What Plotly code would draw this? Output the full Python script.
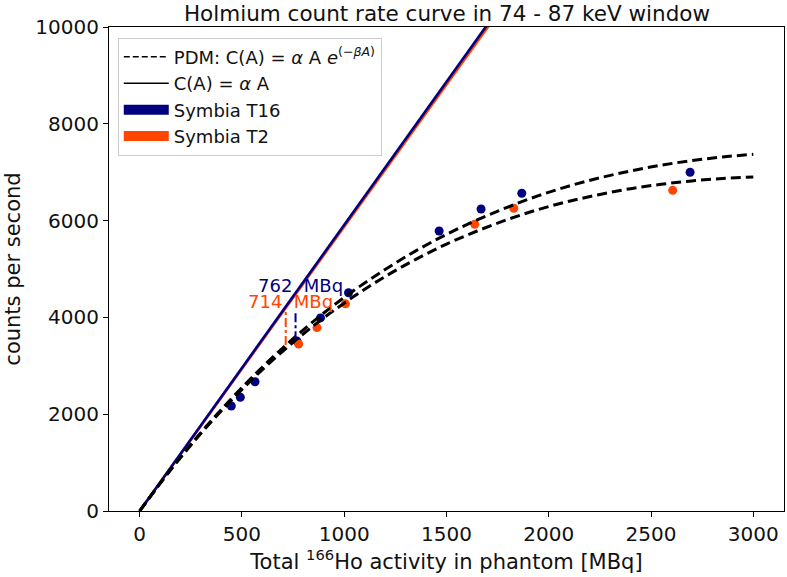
import plotly.graph_objects as go

# ---------------- data ----------------
# measured points (Symbia T16 = navy, Symbia T2 = orangered)
t16_activity = [448, 492, 564, 769, 884, 1021, 1464, 1669, 1868, 2691]
t16_counts = [2170, 2350, 2670, 3510, 3990, 4510, 5785, 6240, 6565, 7000]
t2_activity = [777, 867, 1006, 1638, 1829, 2606]
t2_counts = [3450, 3790, 4280, 5925, 6255, 6625]

# PDM fit curves
curve_activity = [0, 150, 300, 450, 600, 750, 900, 1050, 1200, 1350, 1500,
                  1650, 1800, 1950, 2100, 2250, 2400, 2550, 2700, 2850, 3000]
t16_pdm = [0, 850, 1625, 2330, 2975, 3560, 4090, 4565, 4990, 5375, 5715,
           6015, 6280, 6515, 6715, 6885, 7025, 7145, 7240, 7315, 7370]
t2_pdm = [0, 840, 1605, 2295, 2920, 3485, 3990, 4440, 4845, 5200, 5515,
          5785, 6025, 6230, 6400, 6540, 6660, 6750, 6820, 6870, 6900]

# linear C(A) = alpha A lines (end points)
line_activity = [0, 3000]
t16_linear = [0, 17736]
t2_linear = [0, 17622]

# 20 % count-loss markers
marker_activity = [762, 714]
marker_low = [3530, 3430]
marker_high = [4120, 4150]
marker_text_y = [4650, 4325]

x_ticks = [0, 500, 1000, 1500, 2000, 2500, 3000]
x_tick_labels = ["0", "500", "1000", "1500", "2000", "2500", "3000"]
y_ticks = [0, 2000, 4000, 6000, 8000, 10000]
y_tick_labels = ["0", "2000", "4000", "6000", "8000", "10000"]

NAVY = "#000080"
ORANGE = "#FF4500"
FONT = "DejaVu Sans"

fig = go.Figure()

# legend-only entries
fig.add_trace(go.Scatter(x=[None], y=[None], mode="lines",
                         line=dict(color="black", width=1.5, dash="6px,3px"),
                         name="PDM: C(A) = <i>α</i> A <i>e</i><sup>(−<i>βA</i>)</sup>"))
fig.add_trace(go.Scatter(x=[None], y=[None], mode="lines",
                         line=dict(color="black", width=1.5),
                         name="C(A) = <i>α</i> A"))
fig.add_trace(go.Scatter(x=[None], y=[None], mode="lines",
                         line=dict(color=NAVY, width=12), name="Symbia T16"))
fig.add_trace(go.Scatter(x=[None], y=[None], mode="lines",
                         line=dict(color=ORANGE, width=12), name="Symbia T2"))

# linear lines (orange underneath navy)
fig.add_trace(go.Scatter(x=line_activity, y=t2_linear, mode="lines",
                         line=dict(color=ORANGE, width=2.6), showlegend=False))
fig.add_trace(go.Scatter(x=line_activity, y=t16_linear, mode="lines",
                         line=dict(color=NAVY, width=2.6), showlegend=False))

# measured points
fig.add_trace(go.Scatter(x=t16_activity, y=t16_counts, mode="markers",
                         marker=dict(color=NAVY, size=9), showlegend=False))
fig.add_trace(go.Scatter(x=t2_activity, y=t2_counts, mode="markers",
                         marker=dict(color=ORANGE, size=9), showlegend=False))

# PDM curves
fig.add_trace(go.Scatter(x=curve_activity, y=t16_pdm, mode="lines", line_shape="spline",
                         line=dict(color="black", width=3, dash="10px,5px"), showlegend=False))
fig.add_trace(go.Scatter(x=curve_activity, y=t2_pdm, mode="lines", line_shape="spline",
                         line=dict(color="black", width=3, dash="10px,5px"), showlegend=False))

# vertical markers + labels
for a, lo, hi, ty, col in zip(marker_activity, marker_low, marker_high, marker_text_y, [NAVY, ORANGE]):
    fig.add_trace(go.Scatter(x=[a, a], y=[lo, hi], mode="lines",
                             line=dict(color=col, width=2, dash="dashdot"), showlegend=False))
    fig.add_annotation(x=a, y=ty, text=f"{a}\u00a0 MBq", showarrow=False,
                       xanchor="center", yanchor="middle", xshift=5,
                       font=dict(family=FONT, size=18, color=col))

axis_common = dict(showline=True, linecolor="black", linewidth=1.2, mirror=True,
                   ticks="outside", ticklen=5, tickwidth=1.2, tickcolor="black",
                   showgrid=False, zeroline=False, automargin=False,
                   tickfont=dict(family=FONT, size=20, color="#111111"))

fig.update_layout(
    width=787, height=577,
    margin=dict(l=109, r=3, t=27, b=66),
    plot_bgcolor="white", paper_bgcolor="white",
    font=dict(family=FONT, size=18, color="black"),
    title=dict(text="Holmium count rate curve in 74 - 87 keV window",
               x=0.568, xanchor="center", y=0.977, yanchor="middle",
               font=dict(family=FONT, size=21.5, color="#111111")),
    xaxis=dict(range=[-150, 3150], tickvals=x_ticks, ticktext=x_tick_labels,
               title=dict(text="Total <sup>166</sup>Ho activity in phantom [MBq]",
                          font=dict(family=FONT, size=21, color="#111111"), standoff=4),
               **axis_common),
    yaxis=dict(range=[0, 10000], tickvals=y_ticks, ticktext=y_tick_labels,
               title=dict(text="counts per second",
                          font=dict(family=FONT, size=21, color="#111111"), standoff=8),
               **axis_common),
    legend=dict(x=0.013, y=0.978, xanchor="left", yanchor="top",
                bgcolor="white", bordercolor="#cccccc", borderwidth=1,
                font=dict(family=FONT, size=18, color="#111111"),
                itemwidth=45, tracegroupgap=0, traceorder="normal"),
    showlegend=True,
)

fig.write_html("out.html", config={"displayModeBar": False},
               post_script="document.body.style.margin='0px';")
